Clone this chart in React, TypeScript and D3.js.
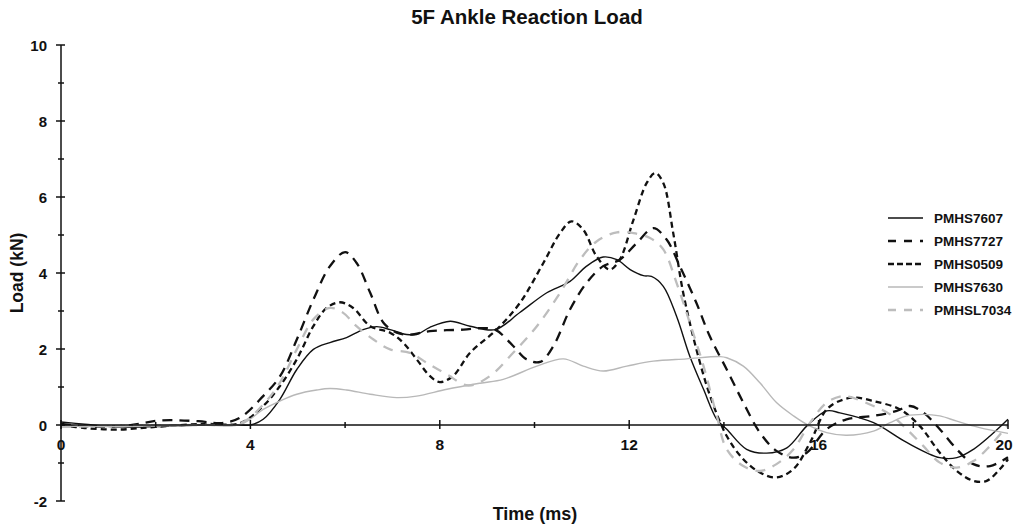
import React from "react";
import * as d3 from "d3";

const title = "5F Ankle Reaction Load";
const xLabel = "Time (ms)";
const yLabel = "Load (kN)";
const xTicks = [0, 4, 8, 12, 16, 20];
const xMinorTicks = [2, 6, 10, 14, 18];
const yTicks = [-2, 0, 2, 4, 6, 8, 10];
const yMinorTicks = [-1, 1, 3, 5, 7, 9];

const seriesNames = ["PMHS7607", "PMHS7727", "PMHS0509", "PMHS7630", "PMHSL7034"];

// [time ms, load kN]
const pmhs7607: [number, number][] = [
  [0, 0.08], [0.5, 0.02], [1.2, -0.05], [2, -0.04], [3, 0.0], [3.8, 0.0], [4.0, 0.0], [4.27, 0.15],
  [4.62, 0.67], [4.98, 1.46], [5.33, 1.99], [5.68, 2.17], [6.03, 2.3], [6.38, 2.51],
  [6.67, 2.59], [6.95, 2.51], [7.3, 2.38], [7.51, 2.38], [7.79, 2.57], [8.22, 2.73],
  [8.64, 2.6], [9.17, 2.51], [9.69, 2.96], [10.26, 3.48], [10.75, 3.78], [11.1, 4.18],
  [11.45, 4.42], [11.74, 4.35], [12.02, 4.09], [12.3, 3.93], [12.47, 3.91], [12.72, 3.65],
  [13.0, 2.86], [13.28, 1.81], [13.57, 0.94], [13.85, 0.15], [14.06, -0.11], [14.48, -0.64],
  [14.9, -0.74], [15.33, -0.6], [15.75, -0.03], [16.17, 0.37], [16.45, 0.32], [17.16, 0.06],
  [17.86, -0.46], [18.56, -0.86], [18.92, -0.86], [19.27, -0.64], [19.62, -0.29], [20, 0.15],
];

const pmhs7727: [number, number][] = [
  [0, 0.03], [0.8, -0.05], [1.5, 0.0], [2.1, 0.12], [2.9, 0.1], [3.4, 0.05], [3.78, 0.19],
  [4.27, 0.76], [4.63, 1.29], [4.98, 2.25], [5.33, 3.3], [5.68, 4.18], [6.0, 4.55],
  [6.24, 4.27], [6.53, 3.48], [6.81, 2.69], [7.09, 2.43], [7.37, 2.38], [7.79, 2.47],
  [8.5, 2.51], [8.9, 2.55], [9.17, 2.51], [9.55, 2.08], [9.83, 1.73], [10.12, 1.66],
  [10.4, 2.08], [10.75, 3.04], [11.1, 3.74], [11.45, 4.18], [11.8, 4.35], [12.16, 4.79],
  [12.51, 5.18], [12.79, 4.88], [13.07, 4.18], [13.42, 3.21], [13.7, 2.34], [14.06, 1.46],
  [14.41, 0.59], [14.76, -0.2], [15.11, -0.68], [15.47, -0.86], [15.75, -0.73],
  [16.17, -0.11], [16.59, 0.15], [17.16, 0.24], [17.65, 0.37], [17.93, 0.5], [18.21, 0.33],
  [18.56, -0.11], [18.92, -0.64], [19.27, -1.03], [19.62, -1.08], [20, -0.85],
];

const pmhs0509: [number, number][] = [
  [0, 0.0], [0.5, -0.08], [1.2, -0.12], [2, -0.05], [3, 0.03], [3.78, 0.05], [4.27, 0.5],
  [4.62, 1.02], [4.98, 1.73], [5.33, 2.6], [5.61, 3.08], [5.89, 3.23], [6.17, 3.08],
  [6.53, 2.6], [6.95, 2.43], [7.23, 2.16], [7.51, 1.73], [7.79, 1.29], [8.0, 1.13],
  [8.28, 1.29], [8.64, 1.9], [9.2, 2.51], [9.69, 3.21], [10.19, 4.27], [10.54, 5.05],
  [10.78, 5.36], [11.03, 5.14], [11.31, 4.44], [11.59, 4.09], [11.8, 4.35], [12.09, 5.4],
  [12.37, 6.37], [12.55, 6.63], [12.72, 6.37], [12.93, 5.05], [13.14, 3.48], [13.42, 1.99],
  [13.71, 0.76], [14.06, -0.29], [14.41, -0.9], [14.76, -1.25], [15.11, -1.38],
  [15.47, -1.16], [15.82, -0.46], [16.17, 0.41], [16.52, 0.67], [16.8, 0.72], [17.16, 0.63],
  [17.72, 0.41], [18.14, -0.03], [18.56, -0.73], [18.92, -1.21], [19.27, -1.47],
  [19.55, -1.47], [19.83, -1.16], [20, -0.9],
];

const pmhs7630: [number, number][] = [
  [0, -0.03], [1, -0.04], [2, -0.02], [3, 0.0], [3.8, 0.02], [4.27, 0.41], [4.62, 0.63],
  [4.98, 0.81], [5.4, 0.92], [5.68, 0.96], [6.03, 0.92], [6.53, 0.81], [7.09, 0.72],
  [7.51, 0.76], [8.15, 0.94], [8.85, 1.1], [9.34, 1.2], [10.05, 1.55], [10.61, 1.74],
  [11.03, 1.55], [11.45, 1.42], [11.95, 1.55], [12.51, 1.68], [13.21, 1.74], [13.92, 1.8],
  [14.06, 1.77], [14.41, 1.55], [14.76, 1.11], [15.11, 0.59], [15.47, 0.24], [15.82, -0.03],
  [16.17, -0.2], [16.59, -0.27], [17.16, -0.16], [17.51, 0.06], [17.86, 0.24], [18.21, 0.28],
  [18.56, 0.24], [18.92, 0.1], [19.4, -0.07], [20, -0.22],
];

const pmhsl7034: [number, number][] = [
  [0, -0.05], [1, -0.03], [2, -0.01], [3, 0.0], [3.8, 0.05], [4.27, 0.54], [4.62, 1.11],
  [4.98, 1.99], [5.33, 2.78], [5.68, 3.08], [5.96, 2.95], [6.24, 2.6], [6.6, 2.25],
  [6.95, 1.99], [7.37, 1.9], [7.72, 1.64], [8.15, 1.33], [8.6, 1.04], [9.06, 1.29],
  [9.55, 1.9], [10.05, 2.6], [10.54, 3.48], [10.96, 4.35], [11.31, 4.83], [11.74, 5.07],
  [12.09, 5.05], [12.44, 4.92], [12.72, 4.62], [13.0, 3.74], [13.28, 2.69], [13.57, 1.55],
  [13.85, 0.24], [14.06, -0.64], [14.41, -1.08], [14.76, -1.21], [15.11, -1.03],
  [15.47, -0.64], [15.82, 0.06], [16.17, 0.59], [16.5, 0.76], [16.66, 0.74], [17.16, 0.5],
  [17.51, 0.28], [17.86, -0.11], [18.21, -0.55], [18.56, -0.99], [18.92, -1.12],
  [19.27, -0.95], [19.62, -0.55], [20, 0.0],
];

const seriesData = [pmhs7607, pmhs7727, pmhs0509, pmhs7630, pmhsl7034];

const styles = [
  { color: "#111", width: 1.4, dash: "" },
  { color: "#111", width: 2.3, dash: "10 7" },
  { color: "#111", width: 2.3, dash: "6 4" },
  { color: "#b8b8b8", width: 1.4, dash: "" },
  { color: "#bdbdbd", width: 2.3, dash: "10 8" },
];

const W = 1013;
const H = 529;
const font = "'Liberation Sans', Arial, sans-serif";

export default function App() {
  const x = d3.scaleLinear().domain([0, 20]).range([61, 1008]);
  const y = d3.scaleLinear().domain([-2, 10]).range([501, 45]);
  const line = d3
    .line<[number, number]>()
    .x((d) => x(d[0]))
    .y((d) => y(d[1]))
    .curve(d3.curveCatmullRom.alpha(0.5));

  const legendX0 = 888;
  const legendX1 = 923;
  const legendYs = [218, 241, 264, 287, 310];

  return (
    <svg
      width={W}
      height={H}
      style={{ position: "absolute", left: 0, top: 0, background: "#fff" }}
      fontFamily={font}
    >
      <rect x={0} y={0} width={W} height={H} fill="#fff" />
      <text x={527} y={23.5} textAnchor="middle" fontWeight="bold" fontSize={20.5} fill="#111">
        {title}
      </text>

      {/* series */}
      <g fill="none" strokeLinejoin="round">
        {seriesData.map((d, i) => (
          <path
            key={i}
            d={line(d) || ""}
            stroke={styles[i].color}
            strokeWidth={styles[i].width}
            strokeDasharray={styles[i].dash || undefined}
          />
        ))}
      </g>

      {/* axes */}
      <g stroke="#111" strokeWidth={1.5}>
        <line x1={x(0)} x2={x(0)} y1={y(10)} y2={y(-2)} />
        {yTicks.map((t) => (
          <line key={"yt" + t} x1={x(0) - 5} x2={x(0) + 4} y1={y(t)} y2={y(t)} />
        ))}
        {yMinorTicks.map((t) => (
          <line key={"ym" + t} x1={x(0) - 3} x2={x(0) + 3} y1={y(t)} y2={y(t)} />
        ))}
        <line x1={x(0)} x2={x(20)} y1={y(0)} y2={y(0)} />
        {xTicks.map((t) => (
          <line key={"xt" + t} x1={x(t)} x2={x(t)} y1={y(0) - 5} y2={y(0) + 4} />
        ))}
        {xMinorTicks.map((t) => (
          <line key={"xm" + t} x1={x(t)} x2={x(t)} y1={y(0) - 3} y2={y(0) + 3} />
        ))}
      </g>

      {yTicks.map((t) => (
        <text key={"yl" + t} x={47} y={y(t) + 5.5} textAnchor="end" fontWeight="bold" fontSize={15} fill="#111">
          {t}
        </text>
      ))}
      {xTicks.map((t) => (
        <text
          key={"xl" + t}
          x={t === 20 ? x(t) - 4 : x(t)}
          y={y(0) + 24.5}
          textAnchor="middle"
          fontWeight="bold"
          fontSize={15.5}
          fill="#111"
        >
          {t}
        </text>
      ))}

      <text
        transform={`translate(23, ${y(4)}) rotate(-90)`}
        textAnchor="middle"
        fontWeight="bold"
        fontSize={17.5}
        fill="#111"
      >
        {yLabel}
      </text>
      <text x={535} y={520} textAnchor="middle" fontWeight="bold" fontSize={18} fill="#111">
        {xLabel}
      </text>

      {/* legend */}
      {seriesNames.map((name, i) => (
        <g key={name}>
          <line
            x1={legendX0}
            x2={legendX1}
            y1={legendYs[i]}
            y2={legendYs[i]}
            stroke={styles[i].color}
            strokeWidth={styles[i].width}
            strokeDasharray={i === 1 ? "8 8" : i === 2 ? "6 3" : i === 4 ? "8 8" : undefined}
          />
          <text x={934} y={legendYs[i] + 5} fontWeight="bold" fontSize={13.5} fill="#111">
            {name}
          </text>
        </g>
      ))}
    </svg>
  );
}
